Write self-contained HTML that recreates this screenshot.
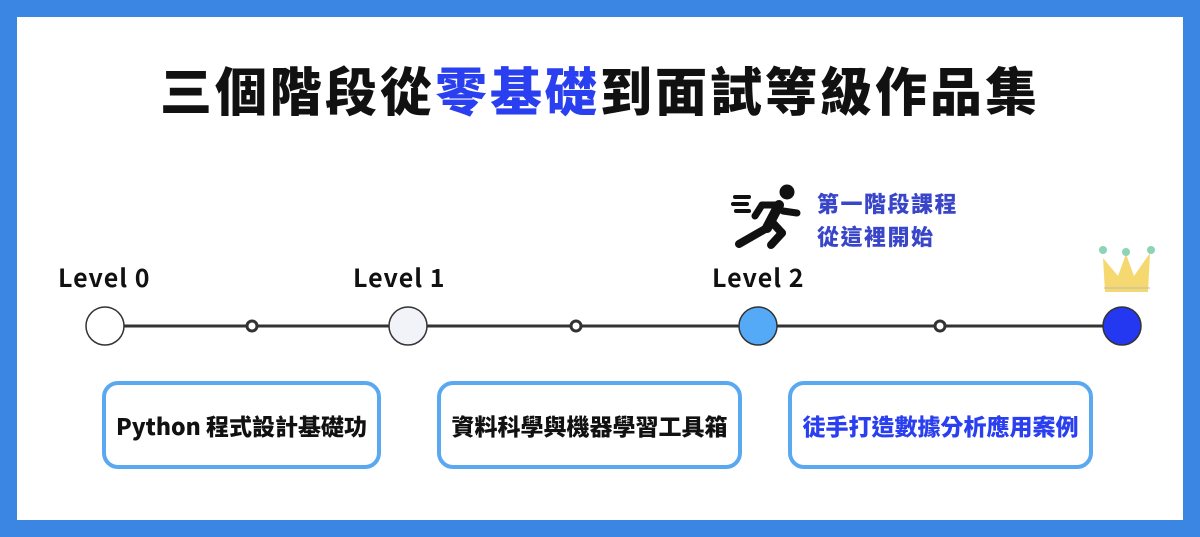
<!DOCTYPE html>
<html><head><meta charset="utf-8"><style>
body{margin:0;width:1200px;height:537px;background:#3a86e2;position:relative;overflow:hidden;font-family:"Liberation Sans","Noto Sans CJK TC",sans-serif}
.in{position:absolute;left:17px;top:17px;width:1166px;height:503px;background:#fff}
.t{position:absolute;left:0;width:1200px;top:56px;text-align:center;font-size:52px;font-weight:900;color:#111;letter-spacing:3px;line-height:66px;font-family:"Noto Sans CJK TC",sans-serif}
.t span{color:#2a3ff0}
.lv{position:absolute;font-size:25px;font-weight:700;color:#111;top:259px;font-family:"Noto Sans CJK TC",sans-serif;letter-spacing:1px}
.box{position:absolute;top:381px;height:80px;border:4px solid #5aa9f0;border-radius:16px;box-sizing:content-box;display:flex;align-items:center;justify-content:center;font-size:23px;font-weight:900;font-family:"Noto Sans CJK TC",sans-serif;color:#111}
.note{position:absolute;left:817px;top:187px;font-size:22px;font-weight:900;color:#3a46c8;line-height:33px;font-family:"Noto Sans CJK TC",sans-serif;letter-spacing:1.5px}
</style></head><body>
<div class="in"></div>
<div class="t">三個階段從<span>零基礎</span>到面試等級作品集</div>
<div class="lv" style="left:58px">Level 0</div>
<div class="lv" style="left:353px">Level 1</div>
<div class="lv" style="left:712px">Level 2</div>
<div class="note">第一階段課程<br>從這裡開始</div>
<svg style="position:absolute;left:0;top:0" width="1200" height="537">
<line x1="105" y1="326" x2="1122" y2="326" stroke="#333" stroke-width="3"/>
<circle cx="105" cy="326" r="19" fill="#fff" stroke="#333" stroke-width="1.5"/>
<circle cx="408" cy="326" r="19" fill="#f1f3f8" stroke="#333" stroke-width="1.5"/>
<circle cx="758" cy="326" r="19" fill="#55aaf7" stroke="#333" stroke-width="1.5"/>
<circle cx="1122" cy="326" r="19" fill="#2338f0" stroke="#333" stroke-width="1.5"/>
<g fill="#fff" stroke="#333" stroke-width="3"><circle cx="252" cy="326" r="5"/><circle cx="576" cy="326" r="5"/><circle cx="940" cy="326" r="5"/></g>
<g fill="#f6d870"><polygon points="1103,258 1118,276 1126,254 1134,276 1150,253 1148,292 1105,292"/></g>
<line x1="1104" y1="288" x2="1150" y2="288" stroke="#bbb" stroke-width="1"/>
<g fill="#8cd4b4"><circle cx="1103" cy="250" r="4"/><circle cx="1126" cy="252" r="4"/><circle cx="1151" cy="250" r="4"/></g>
<g fill="#111" stroke="#111" stroke-linecap="round">
<circle cx="787" cy="192" r="7"/>
<line x1="779" y1="205" x2="767" y2="228" stroke-width="10"/>
<line x1="767" y1="228" x2="739" y2="244" stroke-width="8"/>
<line x1="771" y1="221" x2="782" y2="233" stroke-width="8"/>
<line x1="782" y1="233" x2="771" y2="245" stroke-width="8"/>
<line x1="776" y1="205" x2="762" y2="205" stroke-width="7"/>
<line x1="762" y1="205" x2="755" y2="216" stroke-width="7"/>
<line x1="783" y1="211" x2="797" y2="213" stroke-width="7"/>
<line x1="735" y1="197" x2="749" y2="197" stroke-width="4"/>
<line x1="733" y1="204" x2="747" y2="204" stroke-width="4"/>
<line x1="736" y1="211" x2="749" y2="211" stroke-width="4"/>
</g>
</svg>
<div class="box" style="left:102px;width:271px">Python 程式設計基礎功</div>
<div class="box" style="left:437px;width:297px">資料科學與機器學習工具箱</div>
<div class="box" style="left:788px;width:297px;color:#2a3ff0">徒手打造數據分析應用案例</div>
</body></html>
